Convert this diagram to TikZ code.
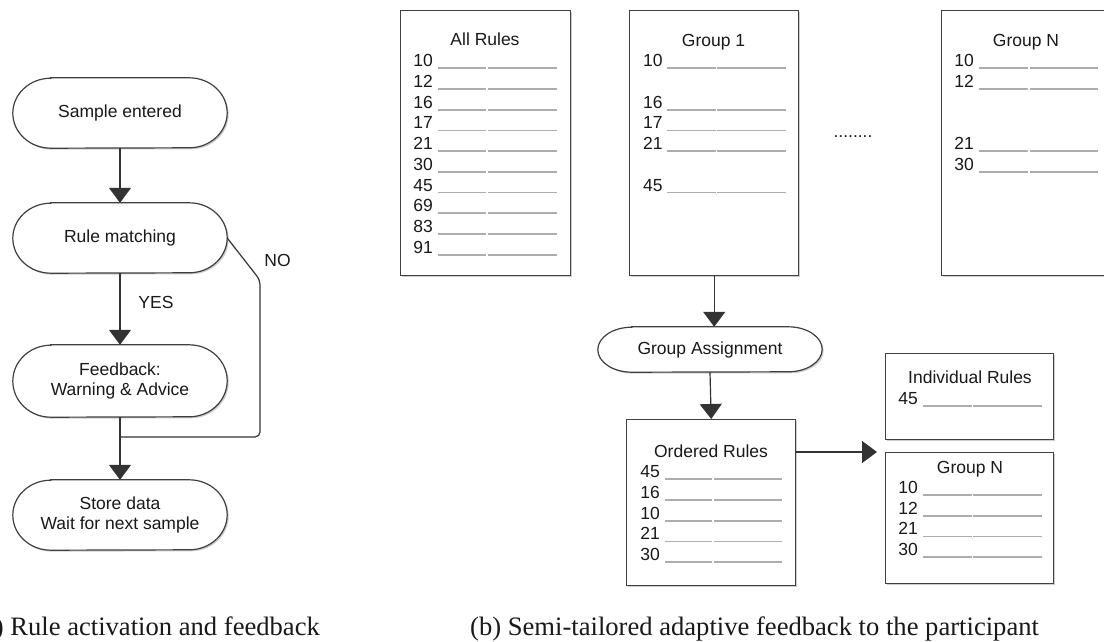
\documentclass[tikz,border=0pt]{standalone}
\usepackage{fontspec}
\setmainfont{Liberation Serif}
\setsansfont{Liberation Sans}
\usetikzlibrary{arrows.meta,shadows}
\pgfdeclarelayer{bg}
\pgfsetlayers{bg,main}
\newcommand\stadshape[3]{%
  \draw[stadline] ([xshift=#2]#1.north west) -- ([xshift=-#2]#1.north east)
    arc[start angle=90,end angle=-90,x radius=#2,y radius=#3]
    -- ([xshift=#2]#1.south west)
    arc[start angle=270,end angle=90,x radius=#2,y radius=#3] -- cycle;}
\newcommand\rulerows[6]{%
  \foreach \n/\ly in {#6} {
    \node[lbl, anchor=base east] (#1\n) at (#2,\ly-1.5) {\n};
    \draw[ruleline] (#3,\ly) -- (#4-0.7,\ly);
    \draw[ruleline] (#4+0.7,\ly) -- (#5,\ly);
  }}
\begin{document}
\begin{tikzpicture}[x=1pt,y=-1pt,
  lbl/.style={font=\sffamily\fontsize{17.5}{20}\selectfont, inner sep=0pt, text=black!90},
  box/.style={draw=black!75, line width=1.4pt, fill=white,
    drop shadow={shadow xshift=1.5pt,shadow yshift=-1.5pt,opacity=0.2,fill=black}},
  stadline/.style={draw=black!75, line width=1.2pt, fill=white,
    drop shadow={shadow xshift=1.5pt,shadow yshift=-1.5pt,opacity=0.2,fill=black}},
  ruleline/.style={draw=black!32, line width=1.8pt},
  conn/.style={draw=black!80, line width=1.2pt},
  arr/.style={conn, -{Triangle[width=22pt,length=15pt]}},
  captxt/.style={font=\fontsize{26.6}{30}\selectfont, inner sep=0pt, anchor=base west, text=black!90}
]
\useasboundingbox (0,0) rectangle (1104,642);
\clip (0,0) rectangle (1104,642);
\begin{pgfonlayer}{bg}
\fill[white] (0,0) rectangle (1104,642);
\end{pgfonlayer}

% ---------- (a) flowchart ----------
\node[lbl, minimum width=214pt, minimum height=70pt, align=center] (se) at (120,113) {Sample entered};
\node[lbl, minimum width=214pt, minimum height=70pt, align=center] (rm) at (120,238) {Rule matching};
\node[lbl, minimum width=214pt, minimum height=72pt, align=center] (fb) at (120,381) {Feedback:\\Warning \& Advice};
\node[lbl, minimum width=214pt, minimum height=70pt, align=center] (sd) at (120,515) {Store data\\Wait for next sample};
\begin{pgfonlayer}{bg}
\stadshape{se}{38pt}{35pt}
\stadshape{rm}{38pt}{35pt}
\stadshape{fb}{38pt}{36pt}
\stadshape{sd}{38pt}{35pt}
\end{pgfonlayer}
\coordinate (j) at (120,437);
\draw[arr] (se.south) -- (rm.north);
\draw[arr] (rm.south) -- (fb.north);
\draw[arr] (fb.south) -- (sd.north);
\draw[conn, rounded corners=5pt] (rm.east) -- (260,280) -- (260,437) -- (j);
\node[lbl] (yes) at (156,302.5) {YES};
\node[lbl] (no) at (277.5,260) {NO};
\node[captxt] (capa) at (-26,635) {(a) Rule activation and feedback};

% ---------- (b) top boxes ----------
\node[box, anchor=north west, minimum width=170pt, minimum height=265pt] (all) at (400,10) {};
\node[box, anchor=north west, minimum width=169pt, minimum height=265pt] (g1) at (629,10) {};
\node[box, anchor=north west, minimum width=170pt, minimum height=265pt] (gn) at (941,10) {};
\node[lbl, anchor=base] (allT) at (485,46) {All Rules};
\node[lbl, anchor=base] (g1T) at (713.5,46.5) {Group 1};
\node[lbl, anchor=base] (gnT) at (1026,46.5) {Group N};
\rulerows{all}{433}{438}{487}{557}{10/68.3,12/89,16/109.7,17/130.4,21/151.1,30/171.8,45/192.5,69/213.2,83/233.9,91/254.6}
\rulerows{ga}{662.7}{666.7}{716.7}{785.7}{10/68.3,16/109.7,17/130.4,21/151.1,45/192.5}
\rulerows{gb}{974}{979}{1029}{1097.7}{10/68.3,12/89,21/151.1,30/171.8}
\node[lbl] (dots) at (853,137) {........};

% ---------- (b) lower part ----------
\node[lbl, minimum width=224pt, minimum height=45pt] (gas) at (710,349.5) {Group Assignment};
\begin{pgfonlayer}{bg}
\stadshape{gas}{34pt}{22.5pt}
\end{pgfonlayer}
\node[box, anchor=north west, minimum width=169pt, minimum height=166pt] (ord) at (626,419) {};
\node[box, anchor=north west, minimum width=168pt, minimum height=86pt] (ind) at (885,353) {};
\node[box, anchor=north west, minimum width=168pt, minimum height=131pt] (gnl) at (885,452) {};
\node[lbl, anchor=base] (ordT) at (711,457) {Ordered Rules};
\node[lbl, anchor=base] (indT) at (970,383) {Individual Rules};
\node[lbl, anchor=base] (gnlT) at (970,473) {Group N};
\rulerows{oa}{660}{665}{713}{782}{45/479.3,16/500,10/520.7,21/541.4,30/562.1}
\rulerows{ia}{918}{923}{972.7}{1042}{45/406}
\rulerows{na}{918}{923}{972.7}{1042}{10/495,12/515.7,21/536.4,30/557.1}

\draw[arr] (g1.south) -- (g1.south |- gas.north);
\draw[arr] (gas.south) -- (ord.north);
\coordinate (tip) at (877,452);
\draw[arr] (ord.east |- tip) -- (tip);

\node[captxt] (capb) at (470,635) {(b) Semi-tailored adaptive feedback to the participant};
\end{tikzpicture}
\end{document}
